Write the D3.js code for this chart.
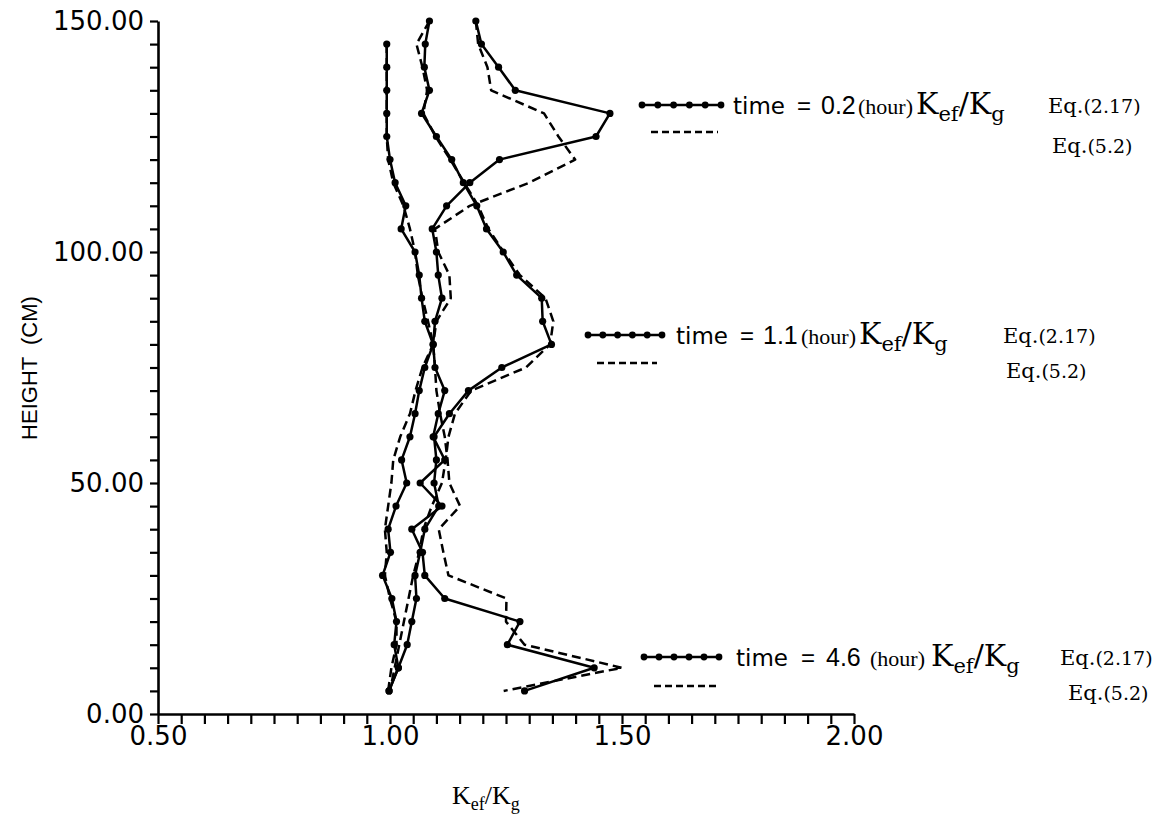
<!DOCTYPE html>
<html>
<head>
<meta charset="utf-8">
<script src="https://cdn.jsdelivr.net/npm/d3@7"></script>
<style>
  body { margin: 0; background: #fff; }
  svg { display: block; }
</style>
</head>
<body>
<svg id="chart" width="1174" height="822"></svg>
<script>
// Height of each measuring point (cm)
const heightsFull = [150,145,140,135,130,125,120,115,110,105,100,95,90,85,80,75,70,65,60,55,50,45,40,35,30,25,20,15,10,5];
const heights145 = [145,140,135,130,125,120,115,110,105,100,95,90,85,80,75,70,65,60,55,50,45,40,35,30,25,20,15,10,5];

// time = 0.2 hour
const t02Eq217 = [1.185,1.197,1.234,1.270,1.474,1.444,1.236,1.172,1.122,1.091,1.100,1.104,1.112,1.097,1.093,1.075,1.063,1.054,1.043,1.025,1.036,1.013,0.996,1.001,0.984,1.004,1.014,1.009,1.018,0.998];
const t02Eq52  = [1.185,1.190,1.210,1.218,1.332,1.363,1.399,1.300,1.172,1.097,1.104,1.128,1.131,1.100,1.093,1.070,1.055,1.043,1.022,1.007,1.003,0.996,0.989,0.993,0.989,1.000,1.014,1.014,1.003,0.996];

// time = 1.1 hour
const t11Eq217 = [1.085,1.076,1.074,1.085,1.068,1.100,1.133,1.158,1.187,1.208,1.244,1.273,1.327,1.329,1.348,1.241,1.169,1.128,1.095,1.100,1.095,1.105,1.075,1.065,1.054,1.057,1.047,1.037,1.018,0.998];
const t11Eq52  = [1.085,1.057,1.070,1.080,1.072,1.098,1.130,1.160,1.190,1.212,1.245,1.280,1.335,1.352,1.345,1.293,1.175,1.140,1.126,1.120,1.112,1.090,1.072,1.063,1.050,1.040,1.030,1.020,1.010,1.000];

// time = 4.6 hour (starts at 145 cm)
const t46Eq217 = [0.993,0.993,0.993,0.993,0.993,1.000,1.011,1.034,1.024,1.054,1.063,1.068,1.075,1.093,1.097,1.118,1.104,1.093,1.118,1.065,1.112,1.047,1.070,1.075,1.118,1.280,1.253,1.440,1.290];
const t46Eq52  = [0.993,0.993,0.993,0.993,0.993,0.996,1.007,1.029,1.043,1.054,1.060,1.070,1.082,1.093,1.097,1.100,1.108,1.118,1.124,1.128,1.151,1.105,1.115,1.126,1.251,1.250,1.290,1.500,1.245];

// Legend labels
const timeLabels = ["0.2", "1.1", "4.6"];
const eqSolidLabel = "(2.17)";
const eqDashedLabel = "(5.2)";

// Axis ticks
const xMajor = [0.5, 1.0, 1.5, 2.0];
const yMajor = [0, 50, 100, 150];

const svg = d3.select("#chart");

const x = d3.scaleLinear().domain([0.5, 2.0]).range([158, 854]);
const y = d3.scaleLinear().domain([0, 150]).range([714, 21]);

const SANS = "'DejaVu Sans', sans-serif";
const HELV = "'Liberation Sans', Arial, sans-serif";
const SERIF = "'Liberation Serif', 'Times New Roman', serif";
const WSERIF = "'DejaVu Serif', serif";

// ---- axes ----
const yAxis = d3.axisLeft(y)
  .tickValues(d3.range(0, 151, 5))
  .tickSize(8)
  .tickSizeOuter(0)
  .tickPadding(6)
  .tickFormat(d => yMajor.includes(d) ? d.toFixed(2) : "");

const xTickVals = d3.range(10, 41).map(i => i / 20);
const xAxis = d3.axisBottom(x)
  .tickValues(xTickVals)
  .tickSize(10)
  .tickSizeOuter(0)
  .tickPadding(3)
  .tickFormat(d => xMajor.some(m => Math.abs(m - d) < 1e-9) ? d.toFixed(2) : "");

const gy = svg.append("g").attr("transform", `translate(${x(0.5)},0)`).call(yAxis);
const gx = svg.append("g").attr("transform", `translate(0,${y(0)})`).call(xAxis);

[gx, gy].forEach(g => {
  g.select(".domain").attr("stroke", "#000").attr("stroke-width", 2.6);
  g.selectAll(".tick line").attr("stroke", "#000").attr("stroke-width", 2.2);
  g.selectAll(".tick text")
    .attr("fill", "#000")
    .style("font-family", SANS)
    .style("font-size", "26px");
});

// y axis title
svg.append("text")
  .attr("transform", "translate(37,368) rotate(-90)")
  .attr("text-anchor", "middle")
  .style("font-family", HELV)
  .style("font-size", "22px")
  .attr("fill", "#000")
  .attr("xml:space", "preserve")
  .text("HEIGHT  (CM)");

// K_ef/K_g label helper
function kRatio(sel, px, py, big, small, drop, family) {
  const t = sel.append("text")
    .attr("x", px).attr("y", py)
    .style("font-family", family)
    .attr("fill", "#000");
  t.append("tspan").style("font-size", big + "px").text("K");
  t.append("tspan").style("font-size", small + "px").attr("dy", drop).text("ef");
  t.append("tspan").style("font-size", big + "px").attr("dy", -drop).text("/K");
  t.append("tspan").style("font-size", small + "px").attr("dy", drop).text("g");
  return t;
}

// x axis title
kRatio(svg, 452, 804, 26, 18, 6, SERIF);

// ---- data lines ----
const series = [
  { h: heightsFull, v: t02Eq217, dashed: false },
  { h: heightsFull, v: t02Eq52,  dashed: true  },
  { h: heightsFull, v: t11Eq217, dashed: false },
  { h: heightsFull, v: t11Eq52,  dashed: true  },
  { h: heights145,  v: t46Eq217, dashed: false },
  { h: heights145,  v: t46Eq52,  dashed: true  }
];

const line = d3.line().x(d => x(d[1])).y(d => y(d[0]));

const plot = svg.append("g");
series.forEach(s => {
  const pts = s.h.map((h, i) => [h, s.v[i]]);
  plot.append("path")
    .datum(pts)
    .attr("d", line)
    .attr("fill", "none")
    .attr("stroke", "#000")
    .attr("stroke-width", 2.5)
    .attr("stroke-linejoin", "round")
    .attr("stroke-dasharray", s.dashed ? "9,5" : null);
  if (!s.dashed) {
    plot.selectAll(null)
      .data(pts)
      .enter().append("circle")
      .attr("cx", d => x(d[1]))
      .attr("cy", d => y(d[0]))
      .attr("r", 3.6)
      .attr("fill", "#000");
  }
});

// ---- legend blocks ----
const legendRows = [
  { label: timeLabels[0], lx0: 642, lx1: 721, ly: 105, dx0: 651, dx1: 718, dy: 132,
    tx: 733, eqx: 797, numx: 821, hourx: 858, kx: 916, baseline: 114,
    eq1x: 1048, eq1y: 113, eq2x: 1052, eq2y: 153 },
  { label: timeLabels[1], lx0: 588, lx1: 662, ly: 335, dx0: 597, dx1: 657, dy: 363,
    tx: 676, eqx: 740, numx: 763, hourx: 801, kx: 859, baseline: 344,
    eq1x: 1003, eq1y: 343, eq2x: 1006, eq2y: 378 },
  { label: timeLabels[2], lx0: 644, lx1: 719, ly: 657, dx0: 654, dx1: 717, dy: 686,
    tx: 736, eqx: 801, numx: 826, hourx: 870, kx: 931, baseline: 666,
    eq1x: 1060, eq1y: 665, eq2x: 1068, eq2y: 700 }
];

const legend = svg.append("g");
legendRows.forEach(r => {
  legend.append("line")
    .attr("x1", r.lx0).attr("x2", r.lx1).attr("y1", r.ly).attr("y2", r.ly)
    .attr("stroke", "#000").attr("stroke-width", 2.5);
  const n = 6;
  for (let i = 0; i < n; i++) {
    legend.append("circle")
      .attr("cx", r.lx0 + (r.lx1 - r.lx0) * i / (n - 1))
      .attr("cy", r.ly).attr("r", 3.4).attr("fill", "#000");
  }
  legend.append("line")
    .attr("x1", r.dx0).attr("x2", r.dx1).attr("y1", r.dy).attr("y2", r.dy)
    .attr("stroke", "#000").attr("stroke-width", 2.4)
    .attr("stroke-dasharray", "7,4");

  legend.append("text")
    .attr("x", r.tx).attr("y", r.baseline)
    .style("font-family", SANS).style("font-size", "23px")
    .attr("fill", "#000").text("time");
  legend.append("text")
    .attr("x", r.eqx).attr("y", r.baseline)
    .style("font-family", HELV).style("font-size", "24px")
    .attr("fill", "#000").text("=");
  legend.append("text")
    .attr("x", r.numx).attr("y", r.baseline)
    .style("font-family", HELV).style("font-size", "25px")
    .attr("fill", "#000").text(r.label);

  legend.append("text")
    .attr("x", r.hourx).attr("y", r.baseline)
    .style("font-family", SERIF).style("font-size", "22px")
    .attr("fill", "#000").text("(hour)");

  kRatio(legend, r.kx, r.baseline, 30, 21, 7, WSERIF);

  const eq = (txt, px, py) => {
    const t = legend.append("text").attr("x", px).attr("y", py)
      .style("font-family", WSERIF).attr("fill", "#000");
    t.append("tspan").style("font-size", "21px").text("Eq.");
    t.append("tspan").style("font-size", "19px").text(txt);
  };
  eq(eqSolidLabel, r.eq1x, r.eq1y);
  eq(eqDashedLabel, r.eq2x, r.eq2y);
});
</script>
</body>
</html>
